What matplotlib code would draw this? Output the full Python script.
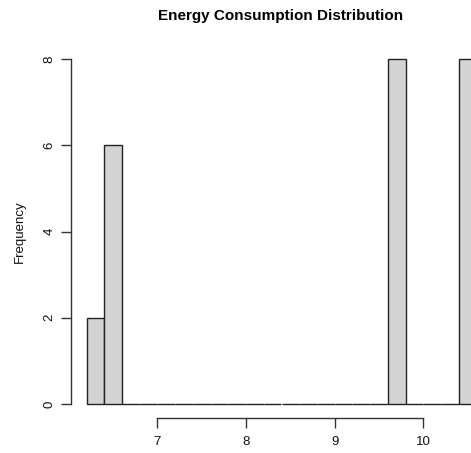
import matplotlib
matplotlib.use("Agg")
import matplotlib.pyplot as plt

# histogram bins (left edges) and counts
bin_lefts = [6.2, 6.4, 6.6, 6.8, 7.0, 7.2, 7.4, 7.6, 7.8, 8.0, 8.2, 8.4,
             8.6, 8.8, 9.0, 9.2, 9.4, 9.6, 9.8, 10.0, 10.2, 10.4]
counts = [2, 6, 0, 0, 0, 0, 0, 0, 0, 0, 0, 0,
          0, 0, 0, 0, 0, 8, 0, 0, 0, 8]
bin_width = 0.2
x_ticks = [7, 8, 9, 10]
y_ticks = [0, 2, 4, 6, 8]

plt.rcParams['font.family'] = ['Liberation Sans', 'DejaVu Sans']

W, H = 471, 453
fig = plt.figure(figsize=(W / 100, H / 100), dpi=100)
# R-style plot region, wider than the saved image (right side is cut off)
left, right, bottom, top = 71.0, 492.0, 417.8, 45.2
ax = fig.add_axes([left / W, (H - bottom) / H, (right - left) / W, (bottom - top) / H])

ax.bar(bin_lefts, counts, width=bin_width, align='edge',
       color='#d3d3d3', edgecolor='#222222', linewidth=1.0)

ax.set_xlim(6.024, 10.776)
ax.set_ylim(-0.32, 8.32)

for s in ['top', 'right']:
    ax.spines[s].set_visible(False)
ax.spines['bottom'].set_bounds(7, 10)
ax.spines['left'].set_bounds(0, 8)
for s in ['bottom', 'left']:
    ax.spines[s].set_color('#333333')
    ax.spines[s].set_linewidth(1.0)

ax.set_xticks(x_ticks)
ax.set_yticks(y_ticks)
ax.set_yticklabels([str(v) for v in y_ticks], rotation=90, va='center')
ax.tick_params(axis='both', length=7, width=1.0, color='#333333',
               labelsize=9.5, labelcolor='#111111')
ax.tick_params(axis='y', pad=4)
ax.tick_params(axis='x', pad=6)

ax.set_ylabel('Frequency', fontsize=9.5, labelpad=13, color='#111111')
fig.text(281 / W, 1 - 16 / H, 'Energy Consumption Distribution',
         ha='center', va='center', fontsize=11, fontweight='bold')

fig.savefig('out.png', dpi=100)
